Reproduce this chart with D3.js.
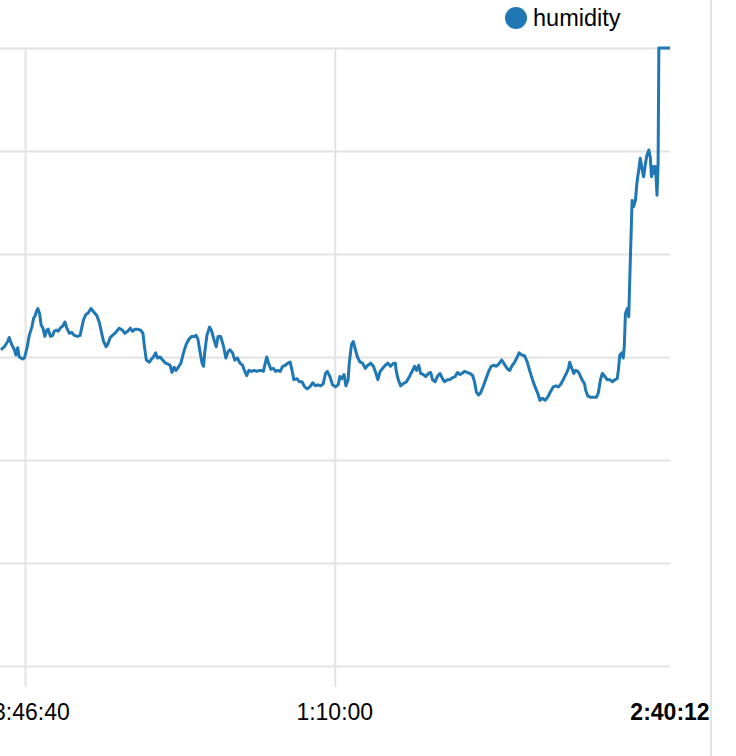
<!DOCTYPE html>
<html>
<head>
<meta charset="utf-8">
<script src="https://cdn.jsdelivr.net/npm/d3@7"></script>
<style>
  html, body { margin: 0; padding: 0; background: #fff; overflow: hidden; }
  svg { display: block; font-family: "Liberation Sans", Arial, Helvetica, sans-serif; }
</style>
</head>
<body>
<svg id="chart" width="736" height="756"></svg>
<script>
// ---- data ----
const seriesName = "humidity";
const startTime = "23:40:12";          // first sample (left edge of plot)
const endTime = "2:40:12";             // last sample (bold end label)
// minutes elapsed since startTime
const minutes = [
  0.0,0.9,1.8,2.2,2.9,3.6,4.0,4.5,4.9,5.8,6.3,7.0,7.6,8.3,8.8,9.2,9.5,9.9,10.4,10.8,
  11.3,11.8,12.3,12.7,13.3,13.9,14.3,14.8,15.4,15.9,16.6,17.2,17.7,18.4,19.0,19.7,20.6,21.3,21.7,22.2,
  22.8,23.5,24.2,24.9,25.8,26.5,27.1,27.6,28.3,28.8,29.4,30.0,30.9,31.8,32.7,33.3,34.1,34.8,35.4,36.1,
  36.7,37.6,38.2,38.5,39.1,39.9,40.5,41.0,41.6,42.1,42.8,43.5,44.3,45.0,45.5,46.0,46.6,47.1,47.7,48.4,
  49.1,49.8,50.5,51.3,52.0,52.5,53.0,53.6,54.1,54.5,54.8,55.4,56.1,56.6,57.3,57.9,58.4,59.1,59.9,60.5,
  61.1,61.6,62.3,62.9,63.6,64.3,65.0,65.6,66.1,66.7,67.4,68.1,68.8,69.5,69.9,70.6,71.1,71.5,72.0,72.6,
  73.3,73.9,74.5,75.1,75.8,76.5,77.2,77.8,78.3,78.8,79.6,80.3,81.0,81.7,82.4,83.1,83.9,84.6,85.3,86.0,
  86.7,87.3,87.8,88.5,89.2,90.0,90.7,91.2,91.7,92.3,92.8,93.4,93.7,94.3,94.8,95.3,95.9,96.6,97.3,98.0,
  98.7,99.5,100.2,100.9,101.4,102.0,102.7,103.4,104.1,104.8,105.6,106.1,106.3,106.8,107.5,108.2,109.1,109.9,110.6,111.3,
  111.8,112.4,112.9,113.6,114.3,115.0,115.6,116.1,116.8,117.4,118.1,118.8,119.3,120.1,120.8,121.5,122.2,122.8,123.5,124.0,
  124.7,125.4,126.2,126.9,127.4,127.9,128.5,129.0,129.7,130.5,131.2,131.9,132.6,133.3,134.1,134.7,135.3,135.8,136.4,136.9,
  137.4,138.2,138.9,139.4,140.1,140.9,141.6,142.3,143.0,143.7,144.4,145.0,145.7,146.4,147.1,147.8,148.6,149.3,150.0,150.7,
  151.4,152.1,152.7,153.0,153.6,154.1,154.6,155.2,155.7,156.3,157.0,157.3,157.9,158.6,159.5,160.2,160.7,161.3,161.8,162.5,
  163.1,163.8,164.5,165.2,165.8,166.1,166.5,167.0,167.4,167.7,168.0,168.5,168.9,169.3,169.8,170.2,170.7,171.1,171.6,172.0,
  172.5,172.9,173.4,173.8,174.3,174.7,175.0,175.4,175.8,176.1,176.5,176.8,177.0,180.0
];
const humidity = [
  60.7,61.0,61.5,61.9,61.2,60.7,60.2,60.9,60.0,59.8,59.9,60.9,62.1,62.9,63.8,64.0,64.4,64.7,64.2,63.1,
  62.8,62.0,62.6,62.7,62.0,62.1,62.5,62.6,62.5,62.8,63.0,63.4,62.8,62.3,62.4,62.1,62.0,62.1,62.8,63.6,
  64.1,64.3,64.7,64.4,64.0,63.3,62.3,61.5,61.0,61.3,61.9,62.1,62.4,62.8,62.6,62.3,62.5,62.8,62.5,62.7,
  62.7,62.6,62.3,61.3,59.7,59.5,59.8,60.0,60.4,59.9,60.0,59.7,59.4,59.3,59.2,58.5,59.0,58.7,59.0,59.4,
  60.4,61.2,61.7,62.0,62.0,62.1,61.7,60.4,59.4,59.1,60.4,62.1,62.9,62.6,61.7,61.0,62.0,62.0,61.0,59.9,
  60.5,60.7,60.4,59.7,59.9,59.4,59.2,58.6,58.2,58.7,58.6,58.7,58.6,58.7,58.7,58.6,59.4,60.0,59.4,58.8,
  58.9,58.6,58.7,58.6,59.1,59.2,59.4,59.5,58.7,57.8,57.9,57.6,57.6,57.1,56.9,57.1,57.5,57.2,57.3,57.2,
  57.4,58.4,58.6,58.1,57.3,57.1,57.3,58.1,57.9,58.3,57.2,57.8,59.4,61.2,61.5,60.8,60.0,59.5,59.4,58.9,
  59.2,59.4,59.1,58.4,57.8,58.6,58.9,59.2,59.4,59.1,59.4,59.4,58.7,57.9,57.2,57.4,57.6,58.1,58.6,59.1,
  58.7,59.2,58.4,58.3,58.1,58.4,58.5,57.8,57.6,58.1,58.4,57.9,57.6,57.8,57.8,58.0,58.1,58.5,58.3,58.4,
  58.6,58.5,58.4,58.2,57.6,56.6,56.3,56.5,57.1,57.9,58.6,59.1,59.2,59.1,59.4,59.7,59.4,59.1,58.8,58.7,
  59.1,59.5,60.0,60.4,60.2,60.1,59.5,58.6,57.8,57.1,56.5,55.8,56.0,55.8,56.1,56.6,57.1,57.2,57.1,57.4,
  57.9,58.4,58.9,59.5,58.9,58.4,58.7,58.6,58.3,57.8,57.4,56.8,56.2,56.1,56.1,56.1,56.5,57.8,58.4,58.1,
  57.8,57.8,57.6,57.8,57.9,58.7,60.2,60.4,59.9,61.0,64.2,64.7,63.9,69.1,75.2,74.6,75.2,76.9,78.2,79.3,
  78.2,77.5,78.8,79.6,80.1,79.4,77.5,78.5,77.8,78.5,75.7,78.8,90.0,90.0
];
const yTicks = [30, 40, 50, 60, 70, 80, 90];
const xTickLabels = ["23:46:40", "1:10:00"];

// ---- helpers ----
const parseClock = (s, dayOffset) => {
  const [h, m, sec] = s.split(":").map(Number);
  return new Date(2020, 0, 1 + dayOffset, h, m, sec);
};
const t0 = parseClock(startTime, 0);
const t1 = parseClock(endTime, 1);
const data = minutes.map((m, i) => ({ t: new Date(+t0 + m * 60000), v: humidity[i] }));
const tickDates = xTickLabels.map(s => {
  const d = parseClock(s, 0);
  return d < t0 ? parseClock(s, 1) : d;
});

// ---- layout ----
const svg = d3.select("#chart");
const plot = { left: 1, right: 670, top: 48, bottom: 666 };
const tickExtra = 21;
const color = "#1f77b4";
const grid = "#e3e3e3";

const x = d3.scaleTime().domain([t0, t1]).range([plot.left, plot.right]);
const y = d3.scaleLinear().domain([30, 90]).range([plot.bottom, plot.top]);

// right border line
svg.append("line")
  .attr("x1", 711).attr("x2", 711).attr("y1", 0).attr("y2", 756)
  .attr("stroke", grid).attr("stroke-width", 2);

// horizontal grid
const yAxis = d3.axisLeft(y).tickValues(yTicks).tickSize(-(plot.right - plot.left + 20)).tickFormat("");
svg.append("g")
  .attr("transform", `translate(${plot.left - 20},0)`)
  .call(yAxis)
  .call(g => g.select(".domain").remove())
  .call(g => g.selectAll(".tick line").attr("stroke", grid).attr("stroke-width", 2));

// vertical grid + tick marks
const fmt = d3.timeFormat("%-H:%M:%S");
const xAxis = d3.axisBottom(x).tickValues(tickDates)
  .tickSize(-(plot.bottom - plot.top + tickExtra)).tickFormat("");
svg.append("g")
  .attr("transform", `translate(0,${plot.bottom + tickExtra})`)
  .call(xAxis)
  .call(g => g.select(".domain").remove())
  .call(g => g.selectAll(".tick line").attr("stroke", grid).attr("stroke-width", 2));

svg.append("g").selectAll("text")
  .data(tickDates)
  .join("text")
  .attr("x", d => x(d))
  .attr("y", 720)
  .attr("text-anchor", "middle")
  .attr("font-size", 23)
  .attr("fill", "#000")
  .text(d => fmt(d));

svg.append("text")
  .attr("x", x(t1))
  .attr("y", 720)
  .attr("text-anchor", "middle")
  .attr("font-size", 23)
  .attr("font-weight", "bold")
  .attr("fill", "#000")
  .text(fmt(t1));

// line
const line = d3.line().x(d => x(d.t)).y(d => y(d.v));
svg.append("path")
  .datum(data)
  .attr("d", line)
  .attr("fill", "none")
  .attr("stroke", color)
  .attr("stroke-width", 3)
  .attr("stroke-linejoin", "round");

// legend
const legend = svg.append("g").attr("transform", "translate(516,18)");
legend.append("circle").attr("r", 11).attr("fill", color);
legend.append("text")
  .attr("x", 17).attr("y", 8)
  .attr("font-size", 23.5)
  .attr("fill", "#000")
  .text(seriesName);
</script>
</body>
</html>
